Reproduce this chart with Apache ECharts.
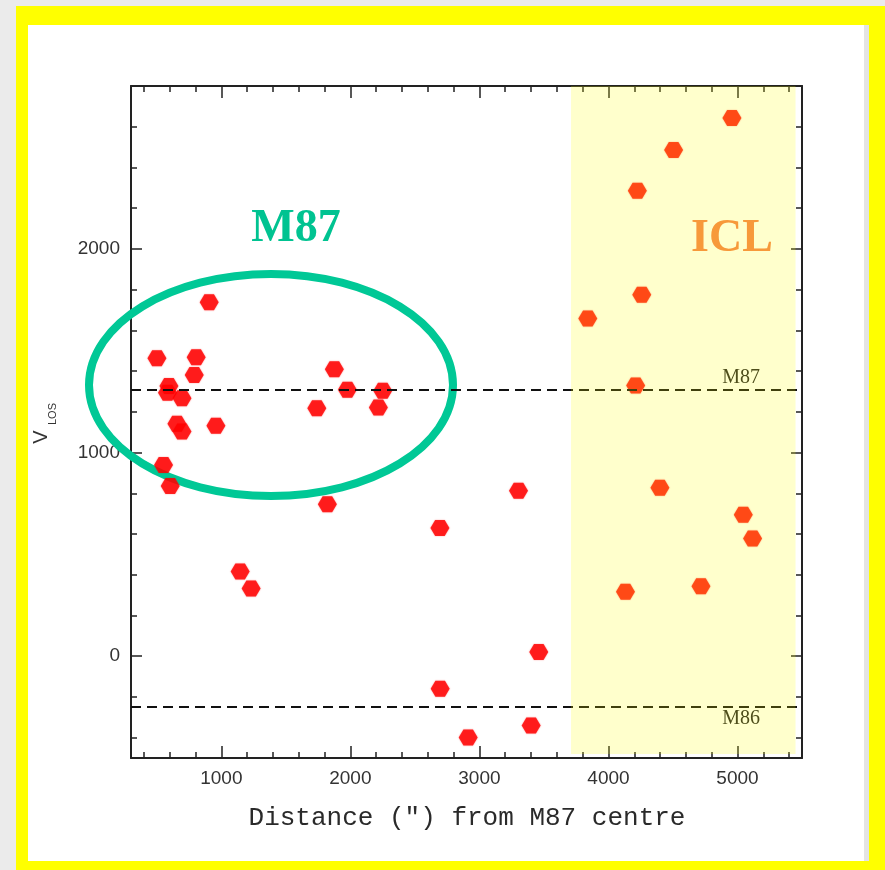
<!DOCTYPE html>
<html>
<head>
<meta charset="utf-8">
<title>Line-of-sight velocities around M87</title>
<script src="https://cdn.jsdelivr.net/npm/echarts@6/dist/echarts.min.js"></script>
<style>
  html, body { margin: 0; padding: 0; background: #ebebeb; }
  #frame { position: absolute; left: 16px; top: 6px; width: 869px; height: 864px; background: #ffff00; }
  #paper { position: absolute; left: 28px; top: 25px; width: 836px; height: 836px; background: #ffffff; border-right: 5px solid #e4e4e4; }
  #chart { position: absolute; left: 0; top: 0; width: 885px; height: 870px; }
</style>
</head>
<body>
<div id="frame"></div>
<div id="paper"></div>
<div id="chart"></div>
<script>
// Projected distance from the M87 centre (arcsec) and line-of-sight velocity (km/s)
const distance = [
  906, 501, 805, 790, 594, 583, 695, 656, 695, 958, 552, 604,
  1876, 1977, 1740, 2251, 2217, 1822, 1146, 1231,
  2694, 3303, 3460, 2696, 2913, 3401,
  4957, 4505, 4224, 4258, 3840, 4211, 4399, 5045, 5117, 4132, 4717
];
const velocity = [
  1738, 1463, 1468, 1381, 1327, 1294, 1267, 1141, 1103, 1131, 939, 836,
  1409, 1308, 1218, 1303, 1221, 746, 416, 332,
  629, 812, 21, -160, -399, -340,
  2643, 2486, 2286, 1775, 1658, 1329, 827, 695, 578, 317, 344
];

// Systemic velocities of the two giant galaxies
const systemicNames = ['M87', 'M86'];
const systemicVelocity = [1307, -250];

// Distance range attributed to the intracluster light
const iclRange = [3710, 5450];

// Axis ranges and tick values
const xRange = [300, 5500];
const yRange = [-500, 2800];
const xMajorTicks = [1000, 2000, 3000, 4000, 5000];
const xMinorTicks = [400, 600, 800, 1200, 1400, 1600, 1800, 2200, 2400, 2600, 2800,
  3200, 3400, 3600, 3800, 4200, 4400, 4600, 4800, 5200, 5400];
const yMajorTicks = [0, 1000, 2000];
const yMinorTicks = [-400, -200, 200, 400, 600, 800, 1200, 1400, 1600, 1800,
  2200, 2400, 2600];

const INK = '#222';
const hexagon = 'path://M0,8 L4.5,0 L13.5,0 L18,8 L13.5,16 L4.5,16 Z';

function makeAxis(position, range, ticks, len, withLine, withLabels) {
  return {
    type: 'value',
    position: position,
    min: range[0],
    max: range[1],
    axisLine: { show: withLine, onZero: false, lineStyle: { color: INK, width: 2 } },
    axisTick: { show: true, inside: true, length: len, customValues: ticks,
      lineStyle: { color: INK, width: 1.5 } },
    axisLabel: withLabels ? {
      show: true, customValues: ticks, margin: 11,
      formatter: (v) => String(v),
      fontFamily: 'Liberation Sans', fontSize: 19, color: '#333'
    } : { show: false },
    splitLine: { show: false }
  };
}

const chart = echarts.init(document.getElementById('chart'), null, { renderer: 'canvas' });

chart.setOption({
  animation: false,
  grid: { left: 131, right: 83, top: 86, bottom: 112 },
  xAxis: [
    makeAxis('bottom', xRange, xMajorTicks, 12, true, true),
    makeAxis('bottom', xRange, xMinorTicks, 6, false, false),
    makeAxis('top', xRange, xMajorTicks, 12, true, false),
    makeAxis('top', xRange, xMinorTicks, 6, false, false)
  ],
  yAxis: [
    makeAxis('left', yRange, yMajorTicks, 11, true, true),
    makeAxis('left', yRange, yMinorTicks, 6, false, false),
    makeAxis('right', yRange, yMajorTicks, 11, true, false),
    makeAxis('right', yRange, yMinorTicks, 6, false, false)
  ],
  series: [
    {
      name: 'velocities',
      type: 'scatter',
      z: 3,
      symbol: hexagon,
      symbolSize: [19, 16],
      itemStyle: { color: '#ff0000', shadowBlur: 1.5, shadowColor: 'rgba(255,0,0,0.6)' },
      data: distance.map((d, i) => [d, velocity[i]])
    },
    {
      name: 'systemic',
      type: 'line',
      data: [],
      markLine: {
        silent: true,
        symbol: ['none', 'none'],
        lineStyle: { type: [10, 6], color: '#111', width: 2 },
        label: { fontFamily: 'Liberation Serif', fontSize: 20, color: '#222' },
        data: systemicNames.map((n, i) => ({
          yAxis: systemicVelocity[i],
          label: {
            formatter: n,
            position: i === 0 ? 'insideEndTop' : 'insideEndBottom',
            distance: [42, 2]
          }
        }))
      }
    },
    {
      name: 'ICL',
      type: 'line',
      data: [],
      markArea: {
        silent: true,
        z: 10,
        itemStyle: { color: 'rgba(255,255,0,0.2)' },
        data: [[
          { xAxis: iclRange[0], yAxis: -480 },
          { xAxis: iclRange[1], yAxis: yRange[1] }
        ]]
      }
    }
  ],
  graphic: [
    {
      type: 'ellipse', z: 1,
      shape: { cx: 271, cy: 385, rx: 182, ry: 111 },
      style: { fill: null, stroke: '#00c896', lineWidth: 8 }
    },
    {
      type: 'text', z: 20, x: 296, y: 229,
      style: { text: 'M87', fill: '#00c391', font: 'bold 46px "Liberation Serif"',
        align: 'center', verticalAlign: 'middle' }
    },
    {
      type: 'text', z: 20, x: 732, y: 239,
      style: { text: 'ICL', fill: '#f7993a', font: 'bold 46px "Liberation Serif"',
        align: 'center', verticalAlign: 'middle' }
    },
    {
      type: 'text', z: 20, x: 467, y: 818,
      style: { text: 'Distance (") from M87 centre', fill: '#2a2a2a',
        font: '26px "Liberation Mono"', align: 'center', verticalAlign: 'middle' }
    },
    {
      type: 'text', z: 20, x: 41, y: 437, rotation: Math.PI / 2,
      style: { text: 'V', fill: '#333', font: '20px "Liberation Sans"',
        align: 'center', verticalAlign: 'middle' }
    },
    {
      type: 'text', z: 20, x: 53, y: 414, rotation: Math.PI / 2,
      style: { text: 'LOS', fill: '#333', font: '11px "Liberation Sans"',
        align: 'center', verticalAlign: 'middle' }
    }
  ]
});
</script>
</body>
</html>
